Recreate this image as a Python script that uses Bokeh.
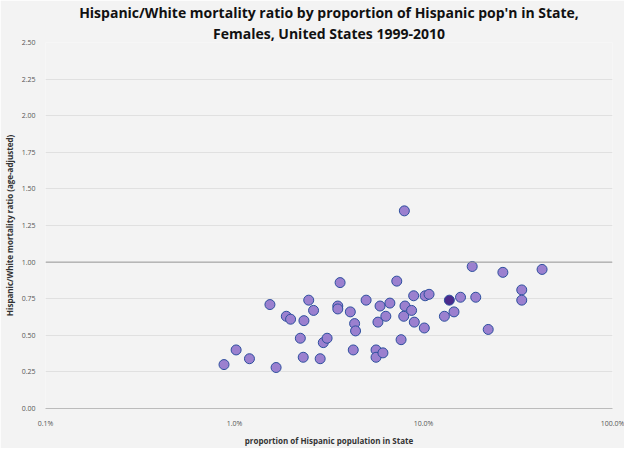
from bokeh.plotting import figure
from bokeh.models import FixedTicker, Span, ColumnDataSource, Title
from bokeh.embed import file_html
from bokeh.resources import INLINE

hisp_pct = [0.88,1.02,1.20,1.54,1.66,1.88,1.98,2.23,2.31,2.33,2.47,2.62,2.84,2.95,3.09,3.52,3.52,3.62,4.10,4.25,
            4.32,4.37,4.97,5.61,5.61,5.74,5.89,6.10,6.32,6.64,7.22,7.61,7.86,7.92,7.98,8.65,8.87,8.94,10.1,10.2,
            10.7,12.9,13.7,14.5,15.7,18.1,18.9,22.0,26.3,33.1,33.1,42.4]
ratio = [0.30,0.40,0.34,0.71,0.28,0.63,0.61,0.48,0.35,0.60,0.74,0.67,0.34,0.45,0.48,0.70,0.68,0.86,0.66,0.40,
         0.58,0.53,0.74,0.40,0.35,0.59,0.70,0.38,0.63,0.72,0.87,0.47,0.63,1.35,0.70,0.67,0.77,0.59,0.55,0.77,
         0.78,0.63,0.74,0.66,0.76,0.97,0.76,0.54,0.93,0.81,0.74,0.95]
highlight_index = 42
x_ticks = [0.001, 0.01, 0.1, 1.0]
x_tick_labels = ["0.1%", "1.0%", "10.0%", "100.0%"]
y_ticks = [0, 0.25, 0.5, 0.75, 1.0, 1.25, 1.5, 1.75, 2.0, 2.25, 2.5]
title_lines = ["Hispanic/White mortality ratio by proportion of Hispanic pop'n in State,",
               "Females, United States 1999-2010"]

frac = [v / 100 for v in hisp_pct]
fills = ["#4a2a8c" if i == highlight_index else "#9b80cf" for i in range(len(frac))]
src = ColumnDataSource(dict(x=frac, y=ratio, c=fills))

p = figure(width=624, height=448, x_axis_type="log", x_range=(0.001, 1.0), y_range=(0, 2.5),
           output_backend="svg", toolbar_location=None,
           min_border_left=38, min_border_right=12, min_border_top=8, min_border_bottom=30)
p.background_fill_color = "#f3f3f3"
p.border_fill_color = "#f3f3f3"
p.outline_line_color = None
for line in reversed(title_lines):
    t = Title(text=line, align="center", text_font="Open Sans", text_font_size="14px",
              text_color="#111111", text_font_style="bold", standoff=0)
    p.add_layout(t, "above")
p.xgrid.grid_line_color = None
p.ygrid.grid_line_color = "#e0e0e0"
p.xaxis.ticker = FixedTicker(ticks=x_ticks)
p.xaxis.major_label_overrides = {t: l for t, l in zip(x_ticks, x_tick_labels)}
p.yaxis.ticker = FixedTicker(ticks=y_ticks)
p.yaxis.major_label_overrides = {t: f"{t:.2f}" for t in y_ticks}
for ax in (p.xaxis, p.yaxis):
    ax.major_label_text_font = "Open Sans"
    ax.major_label_text_font_size = "7px"
    ax.major_label_text_color = "#555555"
    ax.axis_label_text_font = "Open Sans"
    ax.axis_label_text_font_size = "8px"
    ax.axis_label_text_font_style = "bold"
    ax.axis_label_text_color = "#333333"
    ax.major_tick_line_color = None
    ax.minor_tick_line_color = None
    ax.major_label_standoff = 4
    ax.axis_label_standoff = 4
p.yaxis.axis_line_color = None
p.xaxis.axis_line_color = "#bbbbbb"
p.xaxis.axis_label = "proportion of Hispanic population in State"
p.yaxis.axis_label = "Hispanic/White mortality ratio (age-adjusted)"
p.add_layout(Span(location=1.0, dimension="width", line_color="#999999", line_width=1))
p.scatter("x", "y", source=src, size=10, fill_color="c", line_color="#2d4f9e", line_width=1)

open("out.html", "w").write(file_html(p, INLINE))
